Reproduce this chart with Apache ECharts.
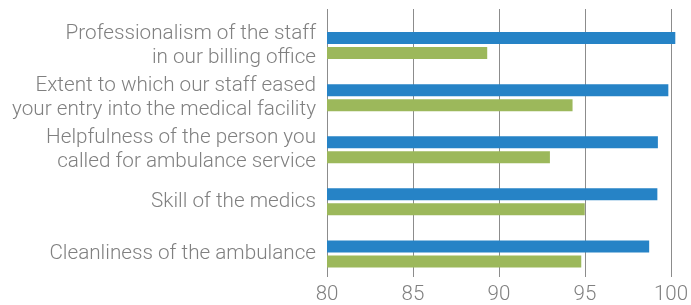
<!DOCTYPE html>
<html><head><meta charset="utf-8">
<script src="https://cdn.jsdelivr.net/npm/echarts@6/dist/echarts.min.js"></script>
<style>html,body{margin:0;padding:0;background:#fff}#c{width:691px;height:305px}</style>
</head><body><div id="c"></div>
<script>
const categories = [
  "Professionalism of the staff\nin our billing office",
  "Extent to which our staff eased\nyour entry into the medical facility",
  "Helpfulness of the person you\ncalled for ambulance service",
  "Skill of the medics",
  "Cleanliness of the ambulance"
];
const seriesBlue = [100.0, 99.6, 99.0, 98.97, 98.5];
const seriesGreen = [89.2, 94.1, 92.8, 94.8, 94.6];
const xTicks = [80, 85, 90, 95, 100];

const FONT = "Roboto";
const chart = echarts.init(document.getElementById('c'), null, {renderer: 'canvas'});
chart.setOption({
  animation: false,
  grid: [
    {left: 327, right: 15.7, top: 9, bottom: 28},
    {left: 327, right: 15.7, top: 19.5, bottom: 25}
  ],
  xAxis: [
    {gridIndex: 0, type: 'value', min: xTicks[0], max: xTicks[xTicks.length-1], interval: 5,
     axisLine: {show: false}, axisTick: {show: false},
     splitLine: {show: true, lineStyle: {color: '#8c8c8c', width: 1}},
     axisLabel: {color: '#808080', fontSize: 20.5, fontFamily: FONT, fontWeight: 300, margin: 7}},
    {gridIndex: 1, type: 'value', min: xTicks[0], max: xTicks[xTicks.length-1], show: false,
     splitLine: {show: false}}
  ],
  yAxis: [
    {gridIndex: 0, type: 'category', data: categories, show: false},
    {gridIndex: 1, type: 'category', data: categories, inverse: true,
     axisLine: {show: false}, axisTick: {show: false},
     axisLabel: {color: '#808080', fontSize: 20.7, fontFamily: FONT, fontWeight: 300,
       lineHeight: 24, margin: 11, align: 'right', padding: [2, 0, 0, 0]}}
  ],
  series: [
    {type: 'bar', xAxisIndex: 1, yAxisIndex: 1, data: seriesBlue, barWidth: 12, barGap: '25%',
     itemStyle: {color: '#2683c6'}, silent: true},
    {type: 'bar', xAxisIndex: 1, yAxisIndex: 1, data: seriesGreen, barWidth: 12, barGap: '25%',
     itemStyle: {color: '#9cb85b'}, silent: true}
  ]
});
</script></body></html>
